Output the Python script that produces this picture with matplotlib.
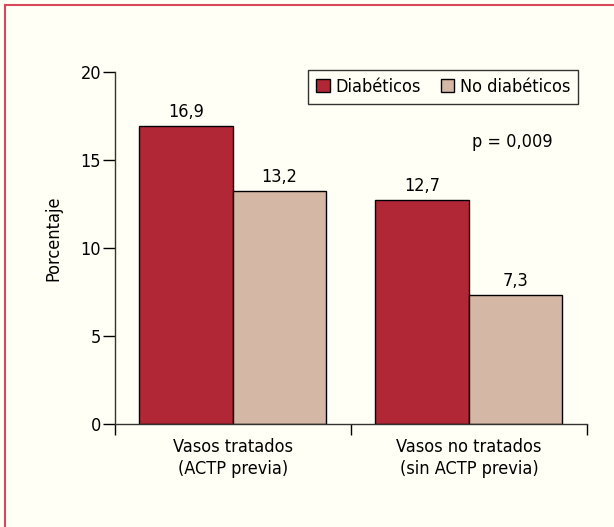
import matplotlib
matplotlib.use("Agg")
import matplotlib.pyplot as plt
from matplotlib.lines import Line2D
from matplotlib.patches import Patch

BG = "#FFFFF5"
RED = "#B22735"
BEIGE = "#D4B8A5"

groups = ["Vasos tratados\n(ACTP previa)", "Vasos no tratados\n(sin ACTP previa)"]
diabeticos = [16.9, 12.7]
no_diabeticos = [13.2, 7.3]
value_labels_d = ["16,9", "12,7"]
value_labels_n = ["13,2", "7,3"]
yticks = [0, 5, 10, 15, 20]

plt.rcParams['font.family'] = ['DejaVu Sans']
plt.rcParams['font.stretch'] = 'condensed'
plt.rcParams['font.size'] = 13


def main():
    fig = plt.figure(figsize=(6.14, 5.27), dpi=100, facecolor=BG)
    ax = fig.add_axes([0.1873, 0.1954, 0.7687, 0.6686])
    ax.set_facecolor(BG)

    # page frame, only top and left edge are visible
    fig.add_artist(Line2D([0.008, 1.0], [0.990, 0.990], color="#D8475A",
                          linewidth=1.5, transform=fig.transFigure))
    fig.add_artist(Line2D([0.008, 0.008], [0.0, 0.990], color="#D8475A",
                          linewidth=1.5, transform=fig.transFigure))

    width = 0.396
    for i in range(len(groups)):
        x_d = i + 0.102
        x_n = x_d + width
        ax.bar(x_d, diabeticos[i], width, align='edge', color=RED,
               edgecolor='black', linewidth=1)
        ax.bar(x_n, no_diabeticos[i], width, align='edge', color=BEIGE,
               edgecolor='black', linewidth=1)
        ax.text(x_d + width / 2, diabeticos[i] + 0.3, value_labels_d[i],
                ha='center', va='bottom')
        ax.text(x_n + width / 2, no_diabeticos[i] + 0.3, value_labels_n[i],
                ha='center', va='bottom')

    ax.set_xlim(0, 2)
    ax.set_ylim(0, 20)
    ax.set_yticks(yticks)
    ax.set_yticklabels([str(t) for t in yticks])
    ax.set_xticks([0, 1, 2])
    ax.set_xticklabels(["", "", ""])
    ax.set_xticks([0.5, 1.5], minor=True)
    ax.set_xticklabels(groups, minor=True, linespacing=1.3)
    ax.tick_params(axis='x', which='major', direction='out', length=8, width=1)
    ax.tick_params(axis='x', which='minor', length=0, pad=10)
    ax.tick_params(axis='y', direction='out', length=9, width=1, pad=1)
    for spine in ['top', 'right']:
        ax.spines[spine].set_visible(False)
    for spine in ['left', 'bottom']:
        ax.spines[spine].set_color('#333333')
        ax.spines[spine].set_linewidth(1)

    ax.set_ylabel("Porcentaje", va='center')
    ax.yaxis.set_label_coords(-0.131, 0.528)

    handles = [Patch(facecolor=RED, edgecolor='black', linewidth=1),
               Patch(facecolor=BEIGE, edgecolor='black', linewidth=1)]
    leg = ax.legend(handles, ["Diabéticos", "No diabéticos"], ncol=2,
                    loc='upper right', bbox_to_anchor=(0.981, 1.005),
                    borderaxespad=0, frameon=True, fancybox=False,
                    edgecolor='black', handlelength=0.75, handleheight=0.75,
                    handletextpad=0.3, columnspacing=1.1, borderpad=0.45)
    leg.get_frame().set_linewidth(1)
    leg.get_frame().set_facecolor(BG)

    ax.text(1.682, 16.0, "p = 0,009", ha='center', va='center')

    fig.savefig("out.png", dpi=100, facecolor=BG)


if __name__ == "__main__":
    main()
